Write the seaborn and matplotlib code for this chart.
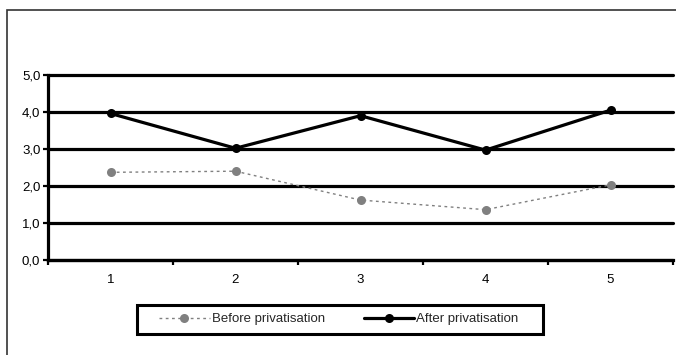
import matplotlib
matplotlib.use("Agg")
import matplotlib.pyplot as plt
from matplotlib.patches import Rectangle
from matplotlib.ticker import FixedLocator, FuncFormatter
import seaborn as sns
import pandas as pd

# Survey items and mean scores
items = [1, 2, 3, 4, 5]
before = [2.37, 2.40, 1.62, 1.36, 2.03]
after = [3.96, 3.02, 3.90, 2.97, 4.05]
y_ticks = [0, 1, 2, 3, 4, 5]

sns.set_theme(style="white")
plt.rcParams["font.family"] = ["Liberation Sans", "DejaVu Sans"]

df = pd.DataFrame({
    "item": items * 2,
    "score": before + after,
    "period": ["Before privatisation"] * 5 + ["After privatisation"] * 5,
})

W, H = 676, 355
fig = plt.figure(figsize=(W / 100, H / 100), dpi=100)
fig.patch.set_facecolor("white")

# thin outer chart-area frame
fig.patches.append(Rectangle((7 / W, -0.2), 1.2, 1.2 - 10 / H,
                             transform=fig.transFigure, fill=False,
                             edgecolor="#333333", linewidth=1.2))

ax = fig.add_axes([48 / W, 1 - 260 / H, (673 - 48) / W, (260 - 75) / H])
ax.set_facecolor("none")

for y in y_ticks:
    ax.axhline(y, color="black", linewidth=2.3, zorder=1, clip_on=False)

sns.lineplot(data=df[df.period == "Before privatisation"], x="item", y="score",
             ax=ax, color="#808080", linestyle=(0, (2, 2.5)), linewidth=1.0,
             marker="o", markersize=6.5, markeredgewidth=0, markerfacecolor="#808080",
             label="Before privatisation", zorder=3)
sns.lineplot(data=df[df.period == "After privatisation"], x="item", y="score",
             ax=ax, color="black", linewidth=2.3,
             marker="o", markersize=6.5, markeredgewidth=0, markerfacecolor="black",
             label="After privatisation", zorder=4)

ax.set_xlim(0.5, 5.5)
ax.set_ylim(0, 5)
ax.set_xlabel("")
ax.set_ylabel("")

ax.xaxis.set_major_locator(FixedLocator(items))
ax.xaxis.set_minor_locator(FixedLocator([0.5, 1.5, 2.5, 3.5, 4.5, 5.5]))
ax.set_xticklabels([str(i) for i in items])
ax.yaxis.set_major_locator(FixedLocator(y_ticks))
ax.yaxis.set_major_formatter(FuncFormatter(lambda v, p: f"{v:.1f}".replace(".", ",")))

ax.tick_params(axis="x", which="major", length=0, pad=10, labelsize=9.5, colors="black")
ax.tick_params(axis="x", which="minor", length=3.5, width=1.6, color="black", direction="out", bottom=True)
ax.tick_params(axis="y", which="major", length=3.5, width=1.6, color="black", direction="out",
               left=True, labelsize=9.5, pad=2, colors="black")

for side in ["top", "right"]:
    ax.spines[side].set_visible(False)
ax.spines["left"].set_color("black")
ax.spines["left"].set_linewidth(2.3)
ax.spines["bottom"].set_color("black")
ax.spines["bottom"].set_linewidth(2.3)

handles, labels = ax.get_legend_handles_labels()
ax.get_legend().remove()

# legend box
fig.patches.append(Rectangle((137 / W, 1 - 333.5 / H), (543 - 137) / W, 28.5 / H,
                             transform=fig.transFigure, fill=False,
                             edgecolor="black", linewidth=2.2, zorder=5))
fig.legend(handles, labels, ncol=2, loc="center",
           bbox_to_anchor=(339 / W, 1 - 319 / H),
           frameon=False, fontsize=9.5, handlelength=3.8, handletextpad=0.2,
           borderpad=0.0, columnspacing=2.9)

fig.savefig("out.png", dpi=100, facecolor="white")
